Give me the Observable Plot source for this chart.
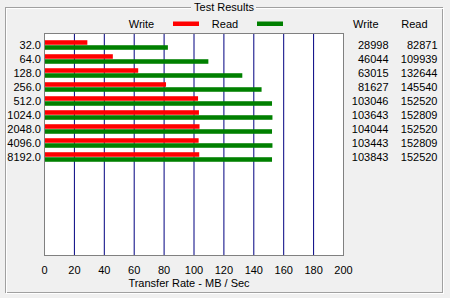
<!DOCTYPE html>
<html>
<head>
<meta charset="utf-8">
<script src="https://cdn.jsdelivr.net/npm/d3@7"></script>
<script src="https://cdn.jsdelivr.net/npm/@observablehq/plot@0.6"></script>
<style>
  html, body { margin: 0; padding: 0; background: #f0f0f0; }
  svg { display: block; }
</style>
</head>
<body>
<div id="chart"></div>
<script>
const sizes = ["32.0", "64.0", "128.0", "256.0", "512.0", "1024.0", "2048.0", "4096.0", "8192.0"];
const writeKB = [28998, 46044, 63015, 81627, 103046, 103643, 104044, 103443, 103843];
const readKB = [82871, 109939, 132644, 145540, 152520, 152809, 152520, 152809, 152520];
const xTicks = [0, 20, 40, 60, 80, 100, 120, 140, 160, 180, 200];
const title = "Test Results";
const xLabel = "Transfer Rate - MB / Sec";
const seriesNames = ["Write", "Read"];
const seriesColors = ["#ff0000", "#008000"];

const rows = sizes.map((s, i) => ({size: s, write: writeKB[i], read: readKB[i]}));
const half = (166 - 36) / sizes.length / 2;

const font = "'Liberation Sans', Arial, sans-serif";

const plot = Plot.plot({
  width: 450,
  height: 298,
  marginLeft: 44,
  marginRight: 107,
  marginTop: 33,
  marginBottom: 43,
  style: {background: "#f0f0f0", fontFamily: font, fontSize: "11px", color: "black"},
  x: {domain: [0, 200], ticks: xTicks, label: null},
  y: {domain: sizes, range: [36, 166], padding: 0, label: null},
  marks: [
    Plot.frame({fill: "white", stroke: "none"}),
    Plot.ruleX(xTicks.filter(t => t > 0 && t < 200), {stroke: "#000080", strokeWidth: 1}),
    Plot.barX(rows, {x1: 0, x2: d => d.write / 1000, y: "size", fill: seriesColors[0], insetTop: half - 5, insetBottom: half}),
    Plot.barX(rows, {x1: 0, x2: d => d.read / 1000, y: "size", fill: seriesColors[1], insetTop: half, insetBottom: half - 5}),
    Plot.frame({stroke: "#808080"}),
    Plot.axisY({tickSize: 0, tickPadding: 3.5, fontSize: 11, fill: "black"}),
    Plot.axisX({ticks: xTicks, tickSize: 0, tickPadding: 10.5, fontSize: 11, fill: "black", label: null}),
    Plot.text(rows, {y: "size", text: d => String(d.write), frameAnchor: "right", textAnchor: "end", dx: 45, fill: "black"}),
    Plot.text(rows, {y: "size", text: d => String(d.read), frameAnchor: "right", textAnchor: "end", dx: 94, fill: "black"}),
    Plot.text([seriesNames[0]], {text: d => d, frameAnchor: "top-right", textAnchor: "end", lineAnchor: "middle", dx: 35, dy: -9, fill: "black"}),
    Plot.text([seriesNames[1]], {text: d => d, frameAnchor: "top-right", textAnchor: "end", lineAnchor: "middle", dx: 84, dy: -9, fill: "black"})
  ]
});

const svg = d3.select(plot);
// group box (etched) with a gap for the title
const g = svg.append("g").attr("fill", "none").attr("shape-rendering", "crispEdges");
const box = (o, color) => {
  const l = 5.5 + o, t = 7.5 + o, r = 442.5 + o, b = 292.5 + o;
  g.append("path")
    .attr("stroke", color)
    .attr("d", `M191,${t}H${l}V${b}H${r}V${t}H256`);
};
box(0, "#a0a0a0");
box(1, "#ffffff");
svg.append("text")
  .attr("x", 224).attr("y", 7).attr("dy", "0.35em")
  .attr("text-anchor", "middle")
  .attr("font-family", font).attr("font-size", 11).attr("fill", "black")
  .text(title);
// legend
const leg = svg.append("g").attr("font-family", font).attr("font-size", 11);
[[141.5, 173, seriesNames[0], seriesColors[0]], [225, 257, seriesNames[1], seriesColors[1]]].forEach(([tx, sx, name, color]) => {
  leg.append("text").attr("x", tx).attr("y", 24).attr("dy", "0.35em").attr("fill", "black").text(name);
  leg.append("rect").attr("x", sx).attr("y", 21.5).attr("width", 26).attr("height", 4.5).attr("fill", color);
});
// axis title
svg.append("text")
  .attr("x", 189).attr("y", 287)
  .attr("text-anchor", "middle")
  .attr("font-family", font).attr("font-size", 11).attr("fill", "black")
  .text(xLabel);

document.getElementById("chart").appendChild(plot);
</script>
</body>
</html>
